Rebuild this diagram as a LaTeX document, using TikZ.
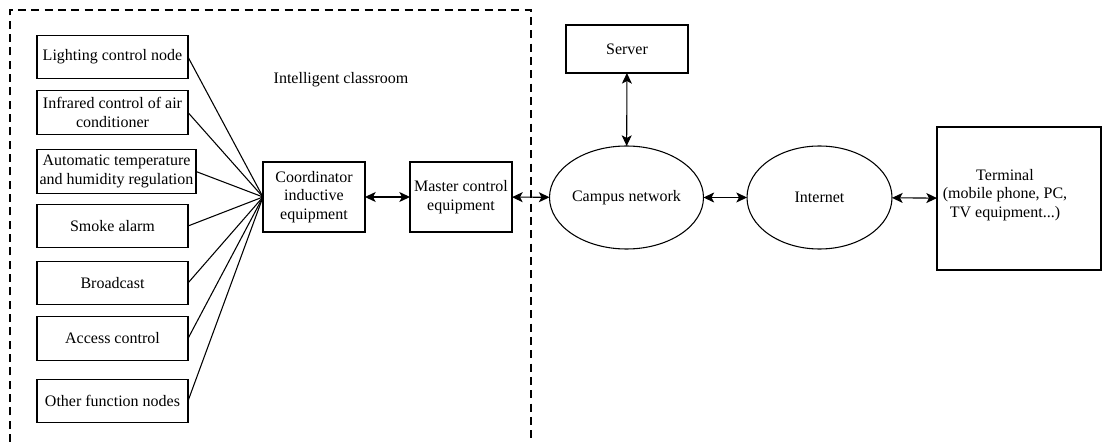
\documentclass[tikz,border=0pt]{standalone}
\usepackage{fontspec}
\setmainfont{Liberation Serif}
\usetikzlibrary{shapes.geometric,arrows.meta}

\begin{document}
\begin{tikzpicture}[x=0.75pt, y=-0.75pt, line width=0.8pt,
    font=\fontsize{12}{13.8}\selectfont,
    box/.style={draw, rectangle, align=center, inner sep=1pt, outer sep=0},
    leftbox/.style={box, minimum width=113.25pt, minimum height=32.5pt},
    cloud/.style={draw, ellipse, align=center, inner sep=0, outer sep=0,
        minimum width=108.75pt, minimum height=77.25pt},
    link/.style={<->, >={Stealth[length=8pt, width=7.5pt, inset=2pt]}}
  ]
    \useasboundingbox (0,0) rectangle (1104,442);
    % dashed frame of the classroom
    \draw[dash pattern=on 6pt off 4pt] (10,442) -- (10,10) -- (531,10) -- (531,442);
    \node (room) at (341,80) {Intelligent classroom};

    % function nodes
    \node[leftbox] (light) at (112.5,57) {Lighting control node};
    \node[leftbox] (infra) at (112.5,112.5) {Infrared control of air\\conditioner};
    \node[leftbox, minimum width=119.25pt] (auto) at (116.5,171.5) {Automatic temperature\\and humidity regulation};
    \node[leftbox] (smoke) at (112.5,226) {Smoke alarm};
    \node[leftbox] (broad) at (112.5,283) {Broadcast};
    \node[leftbox] (access) at (112.5,338.5) {Access control};
    \node[leftbox] (other) at (112.5,401) {Other function nodes};

    \node[box, minimum width=76.5pt, minimum height=52.5pt] (coord) at (314,197) {Coordinator\\inductive\\equipment};
    \node[box, minimum width=76.5pt, minimum height=52.5pt] (master) at (461,197) {Master control\\equipment};

    \foreach \n in {light,infra,auto,smoke,broad,access,other}
      \draw (\n.east) -- (coord.west);

    % outside the classroom
    \node[box, minimum width=91.5pt, minimum height=36pt] (server) at (627,49) {Server};
    \node[cloud] (campus) at (626.5,197.5) {Campus network};
    \node[cloud] (net) at (819.5,197.5) {Internet};
    \node[box, minimum width=123pt, minimum height=107.25pt] (term) at (1019,198.5) {};
    \node[align=center] (termtext) at (1005,195) {Terminal\\(mobile phone, PC,\\TV equipment...)};

    \draw[link] (coord) -- (master);
    \draw[link] (master) -- (campus);
    \draw[link] (server) -- (campus);
    \draw[link] (campus) -- (net);
    \draw[link] (net) -- (term);
  \end{tikzpicture}
\end{document}
